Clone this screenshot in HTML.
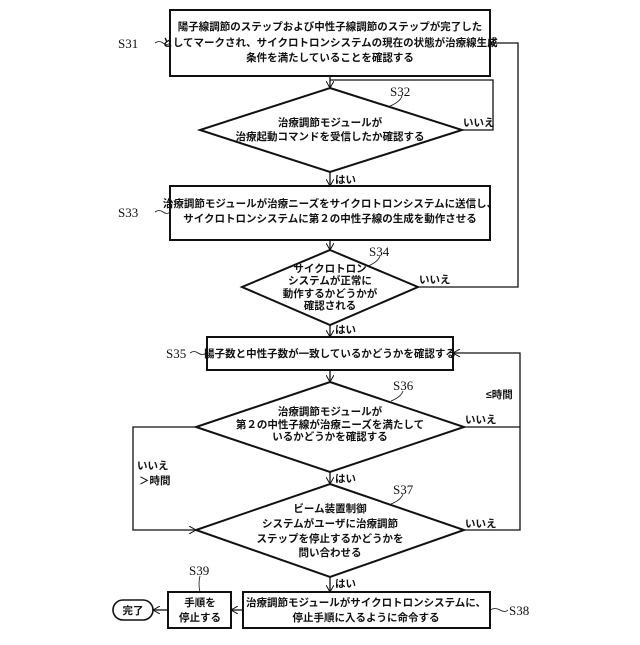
<!DOCTYPE html>
<html><head><meta charset="utf-8"><style>
body{margin:0;background:#fff}
svg text{font-family:"Liberation Sans","Noto Sans CJK JP",sans-serif;font-size:10.5px;font-weight:bold;fill:#111}
.s{font-family:"Liberation Serif",serif;font-weight:normal;font-size:13px}
</style></head><body>
<svg width="640" height="640" viewBox="0 0 640 640">
<defs><marker id="a" markerWidth="8" markerHeight="8" refX="7" refY="4" orient="auto" markerUnits="userSpaceOnUse"><path d="M0,0 L7,4 L0,8" fill="none" stroke="#111" stroke-width="1"/></marker></defs>
<g fill="none" stroke="#111" stroke-width="1.3">
<rect x="170" y="10" width="320" height="66" stroke-width="2"/>
<polygon points="330,88 462,130 330,172 200,130" stroke-width="2"/>
<rect x="170" y="186" width="320" height="54" stroke-width="2"/>
<polygon points="330,250 418,287 330,325 242,287" stroke-width="2"/>
<rect x="207" y="337" width="246" height="33" stroke-width="2"/>
<polygon points="330,382 464,427 330,472 196,427" stroke-width="2"/>
<polygon points="330,484 464,530 330,577 196,530" stroke-width="2"/>
<rect x="243" y="592" width="247" height="36" stroke-width="2"/>
<rect x="168" y="592" width="63" height="36" stroke-width="2"/>
<rect x="113" y="600" width="40" height="20" rx="10" stroke-width="1.6"/>
<line x1="330" y1="76" x2="330" y2="88" marker-end="url(#a)"/>
<polyline points="462,130 493,130 493,80 330,80"/>
<line x1="330" y1="172" x2="330" y2="186" marker-end="url(#a)"/>
<line x1="330" y1="240" x2="330" y2="250" marker-end="url(#a)"/>
<polyline points="418,287 518,287 518,43 490,43" marker-end="url(#a)"/>
<line x1="330" y1="325" x2="330" y2="337" marker-end="url(#a)"/>
<line x1="330" y1="370" x2="330" y2="382" marker-end="url(#a)"/>
<line x1="330" y1="472" x2="330" y2="484" marker-end="url(#a)"/>
<line x1="330" y1="577" x2="330" y2="592" marker-end="url(#a)"/>
<polyline points="464,427 520,427"/>
<polyline points="464,530 520,530 520,353 453,353" marker-end="url(#a)"/>
<polyline points="196,427 133,427 133,530 196,530" marker-end="url(#a)"/>
<line x1="243" y1="610" x2="231" y2="610" marker-end="url(#a)"/>
<line x1="168" y1="610" x2="153" y2="610" marker-end="url(#a)"/>
<path d="M155,43 q4,-3 8,0 t7,0 M155,212 q4,-3 8,0 t7,0 M190,353 q4,-3 8,0 t9,0 M490,610 q5,-3 10,0 t8,0" stroke-width="0.8"/>
<path d="M402,96 q-2,6 -12,10 M380,256 q-2,6 -12,10 M403,391 q-2,6 -12,10 M403,494 q-2,6 -12,10 M200,576 q-2,8 0,16" stroke-width="0.8"/>
</g>
<text class="s" x="118" y="48">S31</text>
<text class="s" x="118" y="217">S33</text>
<text class="s" x="166" y="358">S35</text>
<text class="s" x="509" y="615">S38</text>
<text class="s" x="390" y="96">S32</text>
<text class="s" x="369" y="256">S34</text>
<text class="s" x="393" y="390">S36</text>
<text class="s" x="393" y="494">S37</text>
<text class="s" x="189" y="575">S39</text>
<g text-anchor="middle">
<text x="330" y="30">陽子線調節のステップおよび中性子線調節のステップが完了した</text>
<text x="330" y="46">としてマークされ、サイクロトロンシステムの現在の状態が治療線生成</text>
<text x="330" y="61">条件を満たしていることを確認する</text>
<text x="330" y="126">治療調節モジュールが</text>
<text x="330" y="140">治療起動コマンドを受信したか確認する</text>
<text x="330" y="207">治療調節モジュールが治療ニーズをサイクロトロンシステムに送信し、</text>
<text x="330" y="222">サイクロトロンシステムに第２の中性子線の生成を動作させる</text>
<text x="330" y="272">サイクロトロン</text>
<text x="330" y="284">システムが正常に</text>
<text x="330" y="297">動作するかどうかが</text>
<text x="330" y="309">確認される</text>
<text x="330" y="357">陽子数と中性子数が一致しているかどうかを確認する</text>
<text x="330" y="415">治療調節モジュールが</text>
<text x="330" y="428">第２の中性子線が治療ニーズを満たして</text>
<text x="330" y="440">いるかどうかを確認する</text>
<text x="330" y="512">ビーム装置制御</text>
<text x="330" y="527">システムがユーザに治療調節</text>
<text x="330" y="542">ステップを停止するかどうかを</text>
<text x="330" y="556">問い合わせる</text>
<text x="366" y="606">治療調節モジュールがサイクロトロンシステムに、</text>
<text x="366" y="621">停止手順に入るように命令する</text>
<text x="200" y="606">手順を</text>
<text x="200" y="621">停止する</text>
<text x="133" y="614">完了</text>
</g>
<text x="335" y="183">はい</text>
<text x="335" y="333">はい</text>
<text x="335" y="482">はい</text>
<text x="335" y="587">はい</text>
<text x="463" y="126">いいえ</text>
<text x="419" y="283">いいえ</text>
<text x="465" y="423">いいえ</text>
<text x="465" y="527">いいえ</text>
<text x="486" y="398">≤時間</text>
<text x="137" y="469">いいえ</text>
<text x="139" y="484">＞時間</text>
</svg>
</body></html>
